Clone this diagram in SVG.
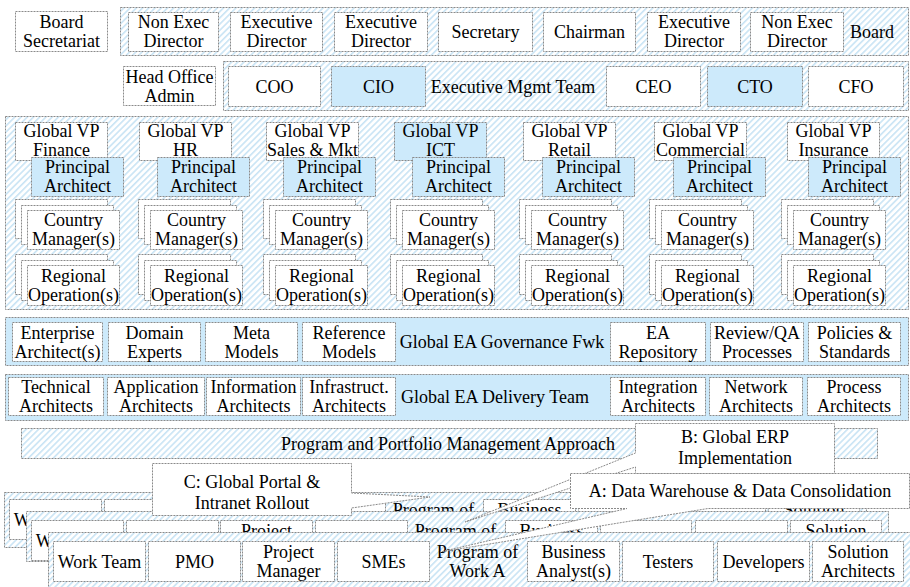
<svg xmlns="http://www.w3.org/2000/svg" width="910" height="587" viewBox="0 0 910 587">
<defs>
<pattern id="hatch" patternUnits="userSpaceOnUse" width="4.4" height="4.4" patternTransform="rotate(45)">
<rect width="4.4" height="4.4" fill="#ffffff" stroke="none"/>
<rect width="1.6" height="4.4" fill="#c9e4f4" stroke="none"/>
</pattern>
<style>
.h, .w, .b { stroke:#8a8a8a; stroke-width:1; stroke-dasharray:2 1; }
.h { fill:url(#hatch); }
.w { fill:#ffffff; }
.b { fill:#cdeafb; }
text { font-family:"Liberation Serif","Times New Roman",serif; font-size:18px; fill:#000; text-anchor:middle; }
</style>
</defs>
<rect x="0" y="0" width="910" height="587" fill="#ffffff"/>

<!-- Row 1 -->
<g id="board-secretariat"><rect class="w" x="15.5" y="11.5" width="92" height="40"/><text x="61.5" y="28">Board</text><text x="61.5" y="47">Secretariat</text></g>
<g id="board">
<rect class="h" x="120.5" y="7.5" width="788" height="48"/>
<g id="board-nonexec-1"><rect class="w" x="128.5" y="12.5" width="90" height="39"/><text x="173.5" y="28">Non Exec</text><text x="173.5" y="47">Director</text></g>
<g id="board-exec-1"><rect class="w" x="230.5" y="12.5" width="92" height="39"/><text x="276.5" y="28">Executive</text><text x="276.5" y="47">Director</text></g>
<g id="board-exec-2"><rect class="w" x="334.5" y="12.5" width="93" height="39"/><text x="381" y="28">Executive</text><text x="381" y="47">Director</text></g>
<g id="board-secretary"><rect class="w" x="438.5" y="12.5" width="94" height="39"/><text x="485.5" y="38">Secretary</text></g>
<g id="board-chairman"><rect class="w" x="543.5" y="12.5" width="92" height="39"/><text x="589.5" y="38">Chairman</text></g>
<g id="board-exec-3"><rect class="w" x="647.5" y="12.5" width="93" height="39"/><text x="694" y="28">Executive</text><text x="694" y="47">Director</text></g>
<g id="board-nonexec-2"><rect class="w" x="750.5" y="12.5" width="93" height="39"/><text x="797" y="28">Non Exec</text><text x="797" y="47">Director</text></g>
<text x="872" y="38">Board</text>
</g>

<!-- Row 2 -->
<g id="head-office"><rect class="w" x="123.5" y="66.5" width="92" height="39"/><text x="169.5" y="82.5">Head Office</text><text x="169.5" y="101.5">Admin</text></g>
<g id="exec-team">
<rect class="h" x="223.5" y="61.5" width="685" height="49"/>
<g id="coo"><rect class="w" x="228.5" y="66.5" width="92" height="40"/><text x="274.5" y="92.5">COO</text></g>
<g id="cio"><rect class="b" x="331.5" y="66.5" width="94" height="40"/><text x="378.5" y="92.5">CIO</text></g>
<text x="513" y="92.5">Executive Mgmt Team</text>
<g id="ceo"><rect class="w" x="606.5" y="66.5" width="94" height="40"/><text x="653.5" y="92.5">CEO</text></g>
<g id="cto"><rect class="b" x="707.5" y="66.5" width="95" height="40"/><text x="755" y="92.5">CTO</text></g>
<g id="cfo"><rect class="w" x="808.5" y="66.5" width="95" height="40"/><text x="856" y="92.5">CFO</text></g>
</g>

<!-- Row 3 -->
<g id="business-units">
<rect class="h" x="5.5" y="116.5" width="903" height="193"/>

<g id="bu-finance">
<rect class="w" x="15.5" y="122.5" width="92" height="38"/><text x="61.5" y="137">Global VP</text><text x="61.5" y="155.5">Finance</text>
<rect class="b" x="31.5" y="157.5" width="92" height="39"/><text x="77.5" y="173">Principal</text><text x="77.5" y="192">Architect</text>
<rect class="w" x="15.5" y="199.5" width="92" height="39"/><rect class="w" x="21.5" y="205.5" width="92" height="39"/><rect class="w" x="27.5" y="210.5" width="92" height="39"/>
<text x="73.5" y="226">Country</text><text x="73.5" y="245">Manager(s)</text>
<rect class="w" x="15.5" y="254.5" width="92" height="40"/><rect class="w" x="21.5" y="260.5" width="92" height="40"/><rect class="w" x="27.5" y="265.5" width="92" height="40"/>
<text x="73.5" y="281.5">Regional</text><text x="73.5" y="300.5">Operation(s)</text>
</g>

<g id="bu-hr">
<rect class="w" x="139.5" y="122.5" width="92" height="38"/><text x="185.5" y="137">Global VP</text><text x="185.5" y="155.5">HR</text>
<rect class="b" x="157.5" y="157.5" width="92" height="39"/><text x="203.5" y="173">Principal</text><text x="203.5" y="192">Architect</text>
<rect class="w" x="138.5" y="199.5" width="92" height="39"/><rect class="w" x="144.5" y="205.5" width="92" height="39"/><rect class="w" x="150.5" y="210.5" width="92" height="39"/>
<text x="196.5" y="226">Country</text><text x="196.5" y="245">Manager(s)</text>
<rect class="w" x="138.5" y="254.5" width="92" height="40"/><rect class="w" x="144.5" y="260.5" width="92" height="40"/><rect class="w" x="150.5" y="265.5" width="92" height="40"/>
<text x="196.5" y="281.5">Regional</text><text x="196.5" y="300.5">Operation(s)</text>
</g>

<g id="bu-sales">
<rect class="w" x="266.5" y="122.5" width="92" height="38"/><text x="312.5" y="137">Global VP</text><text x="312.5" y="155.5">Sales &amp; Mkt</text>
<rect class="b" x="283.5" y="157.5" width="92" height="39"/><text x="329.5" y="173">Principal</text><text x="329.5" y="192">Architect</text>
<rect class="w" x="263.5" y="199.5" width="92" height="39"/><rect class="w" x="269.5" y="205.5" width="92" height="39"/><rect class="w" x="275.5" y="210.5" width="92" height="39"/>
<text x="321.5" y="226">Country</text><text x="321.5" y="245">Manager(s)</text>
<rect class="w" x="263.5" y="254.5" width="92" height="40"/><rect class="w" x="269.5" y="260.5" width="92" height="40"/><rect class="w" x="275.5" y="265.5" width="92" height="40"/>
<text x="321.5" y="281.5">Regional</text><text x="321.5" y="300.5">Operation(s)</text>
</g>

<g id="bu-ict">
<rect class="b" x="394.5" y="122.5" width="92" height="38"/><text x="440.5" y="137">Global VP</text><text x="440.5" y="155.5">ICT</text>
<rect class="b" x="412.5" y="157.5" width="92" height="39"/><text x="458.5" y="173">Principal</text><text x="458.5" y="192">Architect</text>
<rect class="w" x="390.5" y="199.5" width="92" height="39"/><rect class="w" x="396.5" y="205.5" width="92" height="39"/><rect class="w" x="402.5" y="210.5" width="92" height="39"/>
<text x="448.5" y="226">Country</text><text x="448.5" y="245">Manager(s)</text>
<rect class="w" x="390.5" y="254.5" width="92" height="40"/><rect class="w" x="396.5" y="260.5" width="92" height="40"/><rect class="w" x="402.5" y="265.5" width="92" height="40"/>
<text x="448.5" y="281.5">Regional</text><text x="448.5" y="300.5">Operation(s)</text>
</g>

<g id="bu-retail">
<rect class="w" x="523.5" y="122.5" width="92" height="38"/><text x="569.5" y="137">Global VP</text><text x="569.5" y="155.5">Retail</text>
<rect class="b" x="542.5" y="157.5" width="92" height="39"/><text x="588.5" y="173">Principal</text><text x="588.5" y="192">Architect</text>
<rect class="w" x="519.5" y="199.5" width="92" height="39"/><rect class="w" x="525.5" y="205.5" width="92" height="39"/><rect class="w" x="531.5" y="210.5" width="92" height="39"/>
<text x="577.5" y="226">Country</text><text x="577.5" y="245">Manager(s)</text>
<rect class="w" x="519.5" y="254.5" width="92" height="40"/><rect class="w" x="525.5" y="260.5" width="92" height="40"/><rect class="w" x="531.5" y="265.5" width="92" height="40"/>
<text x="577.5" y="281.5">Regional</text><text x="577.5" y="300.5">Operation(s)</text>
</g>

<g id="bu-commercial">
<rect class="w" x="654.5" y="122.5" width="92" height="38"/><text x="700.5" y="137">Global VP</text><text x="700.5" y="155.5">Commercial</text>
<rect class="b" x="673.5" y="157.5" width="92" height="39"/><text x="719.5" y="173">Principal</text><text x="719.5" y="192">Architect</text>
<rect class="w" x="649.5" y="199.5" width="92" height="39"/><rect class="w" x="655.5" y="205.5" width="92" height="39"/><rect class="w" x="661.5" y="210.5" width="92" height="39"/>
<text x="707.5" y="226">Country</text><text x="707.5" y="245">Manager(s)</text>
<rect class="w" x="649.5" y="254.5" width="92" height="40"/><rect class="w" x="655.5" y="260.5" width="92" height="40"/><rect class="w" x="661.5" y="265.5" width="92" height="40"/>
<text x="707.5" y="281.5">Regional</text><text x="707.5" y="300.5">Operation(s)</text>
</g>

<g id="bu-insurance">
<rect class="w" x="787.5" y="122.5" width="92" height="38"/><text x="833.5" y="137">Global VP</text><text x="833.5" y="155.5">Insurance</text>
<rect class="b" x="808.5" y="157.5" width="92" height="39"/><text x="854.5" y="173">Principal</text><text x="854.5" y="192">Architect</text>
<rect class="w" x="781.5" y="199.5" width="92" height="39"/><rect class="w" x="787.5" y="205.5" width="92" height="39"/><rect class="w" x="793.5" y="210.5" width="92" height="39"/>
<text x="839.5" y="226">Country</text><text x="839.5" y="245">Manager(s)</text>
<rect class="w" x="781.5" y="254.5" width="92" height="40"/><rect class="w" x="787.5" y="260.5" width="92" height="40"/><rect class="w" x="793.5" y="265.5" width="92" height="40"/>
<text x="839.5" y="281.5">Regional</text><text x="839.5" y="300.5">Operation(s)</text>
</g>
</g>

<!-- Row 4 -->
<g id="governance">
<rect class="b" x="5.5" y="317.5" width="903" height="48"/>
<g id="gov-ea"><rect class="w" x="12.5" y="322.5" width="90" height="39"/><text x="57.5" y="338.5">Enterprise</text><text x="57.5" y="357.5">Architect(s)</text></g>
<g id="gov-domain"><rect class="w" x="108.5" y="322.5" width="92" height="39"/><text x="154.5" y="338.5">Domain</text><text x="154.5" y="357.5">Experts</text></g>
<g id="gov-meta"><rect class="w" x="205.5" y="322.5" width="92" height="39"/><text x="251.5" y="338.5">Meta</text><text x="251.5" y="357.5">Models</text></g>
<g id="gov-ref"><rect class="w" x="302.5" y="322.5" width="93" height="39"/><text x="349" y="338.5">Reference</text><text x="349" y="357.5">Models</text></g>
<text x="502" y="348">Global EA Governance Fwk</text>
<g id="gov-repo"><rect class="w" x="610.5" y="322.5" width="95" height="39"/><text x="658" y="338.5">EA</text><text x="658" y="357.5">Repository</text></g>
<g id="gov-review"><rect class="w" x="710.5" y="322.5" width="93" height="39"/><text x="757" y="338.5">Review/QA</text><text x="757" y="357.5">Processes</text></g>
<g id="gov-policies"><rect class="w" x="808.5" y="322.5" width="92" height="39"/><text x="854.5" y="338.5">Policies &amp;</text><text x="854.5" y="357.5">Standards</text></g>
</g>

<!-- Row 5 -->
<g id="delivery">
<rect class="b" x="5.5" y="374.5" width="903" height="46"/>
<g id="del-tech"><rect class="w" x="8.5" y="377.5" width="95" height="38"/><text x="56" y="393">Technical</text><text x="56" y="412">Architects</text></g>
<g id="del-app"><rect class="w" x="107.5" y="377.5" width="97" height="38"/><text x="156" y="393">Application</text><text x="156" y="412">Architects</text></g>
<g id="del-info"><rect class="w" x="206.5" y="377.5" width="94" height="38"/><text x="253.5" y="393">Information</text><text x="253.5" y="412">Architects</text></g>
<g id="del-infra"><rect class="w" x="302.5" y="377.5" width="93" height="38"/><text x="349" y="393">Infrastruct.</text><text x="349" y="412">Architects</text></g>
<text x="495" y="402.5">Global EA Delivery Team</text>
<g id="del-integration"><rect class="w" x="610.5" y="377.5" width="95" height="38"/><text x="658" y="393">Integration</text><text x="658" y="412">Architects</text></g>
<g id="del-network"><rect class="w" x="709.5" y="377.5" width="93" height="38"/><text x="756" y="393">Network</text><text x="756" y="412">Architects</text></g>
<g id="del-process"><rect class="w" x="807.5" y="377.5" width="93" height="38"/><text x="854" y="393">Process</text><text x="854" y="412">Architects</text></g>
</g>

<!-- Row 6 -->
<g id="ppm"><rect class="h" x="21.5" y="428.5" width="856" height="30"/><text x="448" y="449.5">Program and Portfolio Management Approach</text></g>

<!-- Program layers -->
<g id="program-c" transform="translate(-44,-42)">
<rect class="h" x="48.5" y="534.5" width="862" height="55"/>
<rect class="w" x="53.5" y="541.5" width="92" height="40"/><text x="99.5" y="567.5">Work Team</text>
<rect class="w" x="148.5" y="541.5" width="92" height="40"/><text x="194.5" y="567.5">PMO</text>
<rect class="w" x="242.5" y="541.5" width="92" height="40"/><text x="288.5" y="558">Project</text><text x="288.5" y="577">Manager</text>
<rect class="w" x="337.5" y="541.5" width="92" height="40"/><text x="383.5" y="567.5">SMEs</text>
<text x="477.5" y="558">Program of</text><text x="477.5" y="577">Work C</text>
<rect class="w" x="527.5" y="541.5" width="92" height="40"/><text x="573.5" y="558">Business</text><text x="573.5" y="577">Analyst(s)</text>
<rect class="w" x="622.5" y="541.5" width="91" height="40"/><text x="668" y="567.5">Testers</text>
<rect class="w" x="717.5" y="541.5" width="92" height="40"/><text x="763.5" y="567.5">Developers</text>
<rect class="w" x="812.5" y="541.5" width="91" height="40"/><text x="858" y="558">Solution</text><text x="858" y="577">Architects</text>
</g>
<g id="program-b" transform="translate(-22,-21)">
<rect class="h" x="48.5" y="532.5" width="862" height="50"/>
<rect class="w" x="53.5" y="541.5" width="92" height="40"/><text x="99.5" y="567.5">Work Team</text>
<rect class="w" x="148.5" y="541.5" width="92" height="40"/><text x="194.5" y="567.5">PMO</text>
<rect class="w" x="242.5" y="541.5" width="92" height="40"/><text x="288.5" y="558">Project</text><text x="288.5" y="577">Manager</text>
<rect class="w" x="337.5" y="541.5" width="92" height="40"/><text x="383.5" y="567.5">SMEs</text>
<text x="477.5" y="558">Program of</text><text x="477.5" y="577">Work B</text>
<rect class="w" x="527.5" y="541.5" width="92" height="40"/><text x="573.5" y="558">Business</text><text x="573.5" y="577">Analyst(s)</text>
<rect class="w" x="622.5" y="541.5" width="91" height="40"/><text x="668" y="567.5">Testers</text>
<rect class="w" x="717.5" y="541.5" width="92" height="40"/><text x="763.5" y="567.5">Developers</text>
<rect class="w" x="812.5" y="541.5" width="91" height="40"/><text x="858" y="558">Solution</text><text x="858" y="577">Architects</text>
</g>
<g id="program-a">
<rect class="h" x="48.5" y="532.5" width="870" height="60"/>
<g id="a-work-team"><rect class="w" x="53.5" y="541.5" width="92" height="40"/><text x="99.5" y="567.5">Work Team</text></g>
<g id="a-pmo"><rect class="w" x="148.5" y="541.5" width="92" height="40"/><text x="194.5" y="567.5">PMO</text></g>
<g id="a-pm"><rect class="w" x="242.5" y="541.5" width="92" height="40"/><text x="288.5" y="558">Project</text><text x="288.5" y="577">Manager</text></g>
<g id="a-smes"><rect class="w" x="337.5" y="541.5" width="92" height="40"/><text x="383.5" y="567.5">SMEs</text></g>
<text x="477.5" y="558">Program of</text><text x="477.5" y="577">Work A</text>
<g id="a-ba"><rect class="w" x="527.5" y="541.5" width="92" height="40"/><text x="573.5" y="558">Business</text><text x="573.5" y="577">Analyst(s)</text></g>
<g id="a-testers"><rect class="w" x="622.5" y="541.5" width="91" height="40"/><text x="668" y="567.5">Testers</text></g>
<g id="a-devs"><rect class="w" x="717.5" y="541.5" width="92" height="40"/><text x="763.5" y="567.5">Developers</text></g>
<g id="a-sa"><rect class="w" x="812.5" y="541.5" width="91" height="40"/><text x="858" y="558">Solution</text><text x="858" y="577">Architects</text></g>
</g>

<!-- Callouts -->
<g id="callouts">
<g id="callout-b"><path class="w" d="M635.5,423.5 H834.5 V473.5 H635.5 V467 L465,522 L635.5,453 Z"/><text x="735" y="443">B: Global ERP</text><text x="735" y="464">Implementation</text></g>
<g id="callout-a"><path class="w" d="M570.5,473.5 H909.5 V508.5 H708 L440,552 L627,508.5 H570.5 Z"/><text x="740" y="497">A: Data Warehouse &amp; Data Consolidation</text></g>
<g id="callout-c"><path class="w" d="M152.5,463.5 H351.5 V493 L430,497 L351.5,508 V515.5 H152.5 Z"/><text x="252" y="488">C: Global Portal &amp;</text><text x="252" y="509">Intranet Rollout</text></g>
</g>
</svg>
